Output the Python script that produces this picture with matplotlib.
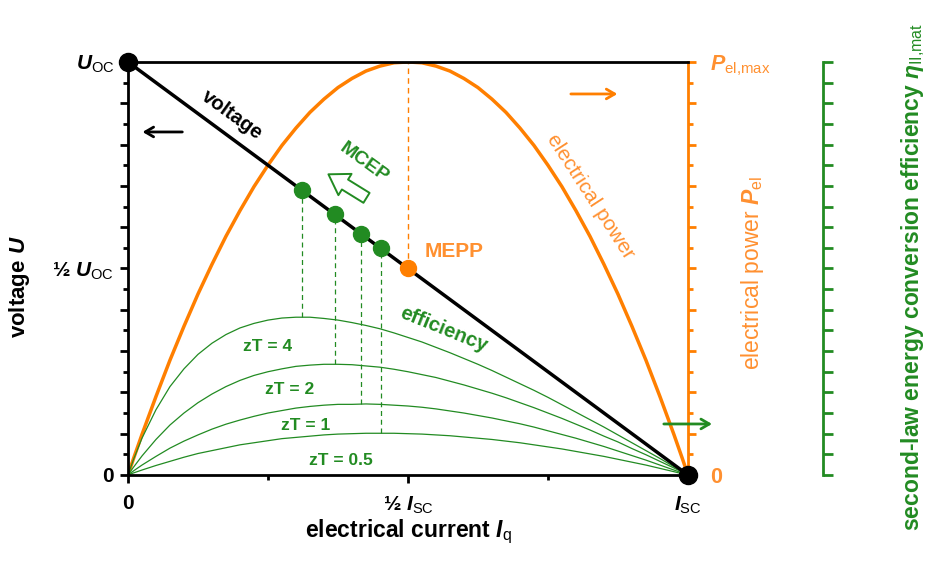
import matplotlib
matplotlib.use('Agg')
import matplotlib.pyplot as plt
from matplotlib.patches import FancyArrowPatch

plt.rcParams['font.family'] = 'Liberation Sans'
plt.rcParams['mathtext.fontset'] = 'custom'
plt.rcParams['mathtext.rm'] = 'Liberation Sans'
plt.rcParams['mathtext.it'] = 'Liberation Sans:italic:bold'
plt.rcParams['mathtext.bf'] = 'Liberation Sans:bold'

### data (normalised: I/Isc, U/Uoc, P/Pmax, eta_II) ###
current = [0, 0.01, 0.025, 0.05, 0.075, 0.1, 0.125, 0.15, 0.175, 0.2, 0.225, 0.25,
           0.275, 0.3, 0.325, 0.35, 0.375, 0.4, 0.425, 0.45, 0.475, 0.5,
           0.525, 0.55, 0.575, 0.6, 0.625, 0.65, 0.675, 0.7, 0.725, 0.75,
           0.775, 0.8, 0.825, 0.85, 0.875, 0.9, 0.925, 0.95, 0.975, 0.99, 1.0]
power = [0, 0.040, 0.098, 0.190, 0.278, 0.360, 0.438, 0.510, 0.578, 0.640, 0.698, 0.750,
         0.798, 0.840, 0.878, 0.910, 0.938, 0.960, 0.978, 0.990, 0.998, 1.0,
         0.998, 0.990, 0.978, 0.960, 0.938, 0.910, 0.878, 0.840, 0.798, 0.750,
         0.698, 0.640, 0.578, 0.510, 0.438, 0.360, 0.278, 0.190, 0.098, 0.040, 0]
eff_zt4 = [0, 0.038, 0.089, 0.158, 0.214, 0.257, 0.292, 0.319, 0.340, 0.356, 0.367, 0.375,
           0.380, 0.382, 0.382, 0.379, 0.375, 0.369, 0.362, 0.354, 0.344, 0.333,
           0.322, 0.309, 0.296, 0.282, 0.268, 0.253, 0.237, 0.221, 0.205, 0.188,
           0.170, 0.152, 0.134, 0.116, 0.097, 0.078, 0.059, 0.040, 0.020, 0.008, 0]
eff_zt2 = [0, 0.019, 0.046, 0.086, 0.121, 0.150, 0.175, 0.196, 0.214, 0.229, 0.241, 0.250,
           0.257, 0.263, 0.266, 0.268, 0.268, 0.267, 0.264, 0.261, 0.256, 0.250,
           0.243, 0.236, 0.227, 0.218, 0.208, 0.198, 0.187, 0.175, 0.163, 0.150,
           0.137, 0.123, 0.109, 0.094, 0.080, 0.064, 0.049, 0.033, 0.017, 0.007, 0]
eff_zt1 = [0, 0.010, 0.024, 0.045, 0.065, 0.082, 0.097, 0.111, 0.123, 0.133, 0.142, 0.150,
           0.156, 0.162, 0.166, 0.169, 0.171, 0.171, 0.172, 0.171, 0.169, 0.167,
           0.164, 0.160, 0.155, 0.150, 0.144, 0.138, 0.131, 0.124, 0.116, 0.107,
           0.098, 0.089, 0.079, 0.069, 0.058, 0.047, 0.036, 0.024, 0.012, 0.005, 0]
eff_zt05 = [0, 0.005, 0.012, 0.023, 0.033, 0.043, 0.052, 0.059, 0.066, 0.073, 0.078, 0.083,
            0.088, 0.091, 0.094, 0.097, 0.099, 0.100, 0.101, 0.101, 0.101, 0.100,
            0.099, 0.097, 0.095, 0.092, 0.089, 0.086, 0.082, 0.078, 0.073, 0.068,
            0.063, 0.057, 0.051, 0.045, 0.038, 0.031, 0.024, 0.016, 0.008, 0.003, 0]
efficiencies = [eff_zt4, eff_zt2, eff_zt1, eff_zt05]
zt_labels = ['zT = 4', 'zT = 2', 'zT = 1', 'zT = 0.5']

voltage_x = [0, 1]
voltage_y = [1, 0]
mcep_current = [0.311, 0.369, 0.417, 0.451]
mcep_voltage = [0.689, 0.631, 0.583, 0.549]
mcep_eff = [0.382, 0.268, 0.172, 0.101]
mepp_current = 0.5
mepp_voltage = 0.5

black = 'black'
orange = '#ff7f00'
orange_txt = '#ff9030'
green = '#228b22'

fig = plt.figure(figsize=(9.28, 5.70), dpi=100)
ax = fig.add_axes([0.1379, 0.1667, 0.6034, 0.7246])
ax_p = ax.twinx()
ax_g = ax.twinx()
ax_p.set_zorder(1)
ax_g.set_zorder(2)
ax.set_zorder(3)
ax.patch.set_visible(False)

for a in (ax, ax_p, ax_g):
    a.set_xlim(0, 1)
    a.set_ylim(0, 1)

### main axes: voltage ###
ax.spines['right'].set_visible(False)
for s in ('left', 'bottom', 'top'):
    ax.spines[s].set_linewidth(2)
ax.set_yticks([i / 10 for i in range(11)])
ax.set_yticklabels(['0', '', '', '', '', r'½ $U_{\mathrm{OC}}$', '', '', '', '', r'$U_{\mathrm{OC}}$'])
ax.set_yticks([0.05 + i / 10 for i in range(10)], minor=True)
ax.set_xticks([0, 0.5, 1])
ax.set_xticklabels(['0', r'½ $I_{\mathrm{SC}}$', r'$I_{\mathrm{SC}}$'])
ax.set_xticks([0.25, 0.75], minor=True)
ax.tick_params(which='major', length=6, width=2, labelsize=15, pad=4)
ax.tick_params(which='minor', length=3.5, width=2)
ax.tick_params(axis='x', which='major', pad=8)
for lab in ax.get_xticklabels() + ax.get_yticklabels():
    lab.set_fontweight('bold')
ax.set_xlabel(r'electrical current $I_{\mathrm{q}}$', fontsize=16.5, fontweight='bold', labelpad=1)
ax.set_ylabel(r'voltage $U$', fontsize=16, fontweight='bold',
              va='center', ha='center', rotation_mode='anchor')
ax.yaxis.set_label_coords(-0.193, 0.455)

ax.plot(voltage_x, voltage_y, color=black, lw=2.5, zorder=3)
ax.plot(voltage_x, voltage_y, 'o', color=black, ms=13, clip_on=False, zorder=6)
ax.plot(mcep_current, mcep_voltage, 'o', color=green, ms=11.5, zorder=5)
ax.plot([mepp_current], [mepp_voltage], 'o', color=orange, ms=11.5, zorder=5)

### power axis ###
for s in ('left', 'bottom', 'top'):
    ax_p.spines[s].set_visible(False)
ax_p.spines['right'].set_color(orange)
ax_p.spines['right'].set_linewidth(2)
ax_p.set_yticks([i / 10 for i in range(11)])
ax_p.set_yticklabels(['0'] + [''] * 9 + [r'$P_{\mathrm{el{,}max}}$'])
ax_p.set_yticks([0.05 + i / 10 for i in range(10)], minor=True)
ax_p.tick_params(which='major', length=6, width=2, color=orange, labelcolor=orange_txt,
                 labelsize=15.5, pad=10)
ax_p.tick_params(which='minor', length=3.5, width=2, color=orange)
for lab in ax_p.get_yticklabels():
    lab.set_fontweight('bold')
ax_p.set_ylabel(r'electrical power $P_{\mathrm{el}}$', fontsize=16.5, color=orange_txt,
                rotation=90, va='center', ha='center', rotation_mode='anchor')
ax_p.yaxis.set_label_coords(1.116, 0.49)
ax_p.plot(current, power, color=orange, lw=2.5)
ax_p.plot([mepp_current, mepp_current], [mepp_voltage, 1], color=orange, lw=1,
          ls=(0, (4, 3)))

### efficiency axis ###
for s in ('left', 'bottom', 'top'):
    ax_g.spines[s].set_visible(False)
ax_g.spines['right'].set_position(('axes', 1.241))
ax_g.spines['right'].set_color(green)
ax_g.spines['right'].set_linewidth(2)
ax_g.set_yticks([i / 20 for i in range(21)])
ax_g.set_yticklabels([])
ax_g.tick_params(length=7, width=2, color=green)
ax_g.set_ylabel(r'second-law energy conversion efficiency $\eta_{\mathrm{II{,}mat}}$',
                fontsize=16.5, fontweight='bold', color=green,
                rotation=90, va='center', ha='center', rotation_mode='anchor')
ax_g.yaxis.set_label_coords(1.402, 0.479)

for eff in efficiencies:
    ax_g.plot(current, eff, color=green, lw=0.9)
for xc, yv, ye in zip(mcep_current, mcep_voltage, mcep_eff):
    ax_g.plot([xc, xc], [ye, yv], color=green, lw=0.9, ls=(0, (4, 3)))

### annotations ###
zt_pos = [(0.250, 0.310), (0.289, 0.208), (0.318, 0.121), (0.380, 0.036)]
for (tx, ty), lab in zip(zt_pos, zt_labels):
    ax.text(tx, ty, lab, color=green, fontsize=12.5, fontweight='bold',
            ha='center', va='center')

ax.text(0.186, 0.872, 'voltage', fontsize=14.5, fontweight='bold', rotation=-36,
        ha='center', va='center', rotation_mode='anchor')
ax.text(0.421, 0.755, 'MCEP', color=green, fontsize=14, fontweight='bold', rotation=-36,
        ha='center', va='center', rotation_mode='anchor')
ax.text(0.582, 0.540, 'MEPP', color=orange_txt, fontsize=15, fontweight='bold',
        ha='center', va='center')
ax.text(0.825, 0.673, 'electrical power', color=orange_txt, fontsize=15, rotation=-57,
        ha='center', va='center', rotation_mode='anchor')
ax.text(0.564, 0.351, 'efficiency', color=green, fontsize=14.5, fontweight='bold',
        rotation=-22, ha='center', va='center', rotation_mode='anchor')

ax.add_patch(FancyArrowPatch((0.426, 0.671), (0.358, 0.728), shrinkA=0, shrinkB=0,
                             arrowstyle='simple,head_length=0.7,head_width=0.9,tail_width=0.42',
                             mutation_scale=20, fc='white', ec=green, lw=1.4, zorder=4))

ax.annotate('', xy=(0.021, 0.8305), xytext=(0.102, 0.8305),
            arrowprops=dict(arrowstyle='->,head_length=0.6,head_width=0.35', lw=2, color=black))
ax.annotate('', xy=(0.879, 0.9225), xytext=(0.786, 0.9225),
            arrowprops=dict(arrowstyle='->,head_length=0.6,head_width=0.35', lw=2, color=orange))
ax.annotate('', xy=(1.048, 0.1235), xytext=(0.952, 0.1235), annotation_clip=False,
            arrowprops=dict(arrowstyle='->,head_length=0.6,head_width=0.35', lw=2, color=green))

fig.savefig('out.png', dpi=100)
